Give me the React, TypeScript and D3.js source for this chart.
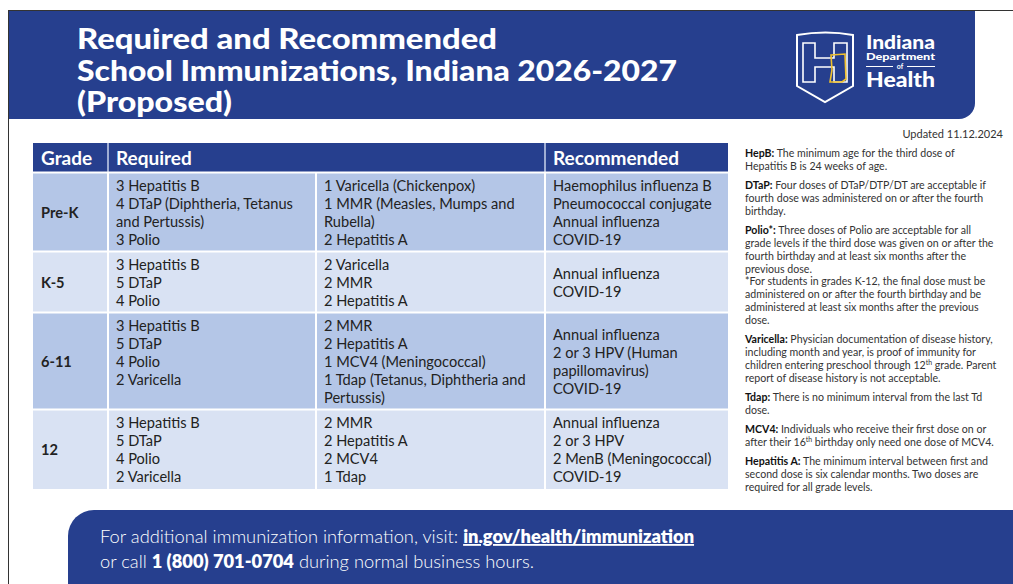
import React from "react";
import * as d3 from "d3";

// table content
const grades = ["Pre-K", "K-5", "6-11", "12"];
const requiredA = [
  ["3 Hepatitis B", "4 DTaP (Diphtheria, Tetanus", "and Pertussis)", "3 Polio"],
  ["3 Hepatitis B", "5 DTaP", "4 Polio"],
  ["3 Hepatitis B", "5 DTaP", "4 Polio", "2 Varicella"],
  ["3 Hepatitis B", "5 DTaP", "4 Polio", "2 Varicella"],
];
const requiredB = [
  ["1 Varicella (Chickenpox)", "1 MMR (Measles, Mumps and", "Rubella)", "2 Hepatitis A"],
  ["2 Varicella", "2 MMR", "2 Hepatitis A"],
  ["2 MMR", "2 Hepatitis A", "1 MCV4 (Meningococcal)", "1 Tdap (Tetanus, Diphtheria and", "Pertussis)"],
  ["2 MMR", "2 Hepatitis A", "2 MCV4", "1 Tdap"],
];
const recommended = [
  ["Haemophilus influenza B", "Pneumococcal conjugate", "Annual influenza", "COVID-19"],
  ["Annual influenza", "COVID-19"],
  ["Annual influenza", "2 or 3 HPV (Human", "papillomavirus)", "COVID-19"],
  ["Annual influenza", "2 or 3 HPV", "2 MenB (Meningococcal)", "COVID-19"],
];
const headers = ["Grade", "Required", "Recommended"];

const titleLines = [
  "Required and Recommended",
  "School Immunizations, Indiana 2026-2027",
  "(Proposed)",
];

const noteLabels = ["HepB:", "DTaP:", "Polio*:", "Varicella:", "Tdap:", "MCV4:", "Hepatitis A:"];
const noteLines = [
  [" The minimum age for the third dose of", "Hepatitis B is 24 weeks of age."],
  [" Four doses of DTaP/DTP/DT are acceptable if", "fourth dose was administered on or after the fourth", "birthday."],
  [
    " Three doses of Polio are acceptable for all",
    "grade levels if the third dose was given on or after the",
    "fourth birthday and at least six months after the",
    "previous dose.",
    "*For students in grades K-12, the final dose must be",
    "administered on or after the fourth birthday and be",
    "administered at least six months after the previous",
    "dose.",
  ],
  [
    " Physician documentation of disease history,",
    "including month and year, is proof of immunity for",
    "children entering preschool through 12{th} grade. Parent",
    "report of disease history is not acceptable.",
  ],
  [" There is no minimum interval from the last Td", "dose."],
  [" Individuals who receive their first dose on or", "after their 16{th} birthday only need one dose of MCV4."],
  [" The minimum interval between first and", "second dose is six calendar months. Two doses are", "required for all grade levels."],
];

const BLUE = "#263f8e";
const DARK_ROW = "#b4c6e7";
const LIGHT_ROW = "#d9e2f3";
const TXT = "#222";

function withSup(s: string) {
  const parts = s.split(/\{(.*?)\}/);
  return parts.map((p, i) =>
    i % 2 === 1 ? (
      <tspan key={i} dy={-4} fontSize="0.65em">
        {p}
      </tspan>
    ) : (
      <tspan key={i} dy={i > 0 ? 4 : 0}>
        {p}
      </tspan>
    )
  );
}

function App() {
  const W = 1013;
  const H = 584;
  const colEdges = [33, 108, 316, 545, 728];
  const headTop = 143;
  const headH = 29;
  const lineH = 18;

  const lineCounts = grades.map((_, i) =>
    d3.max([requiredA[i].length, requiredB[i].length, recommended[i].length]) as number
  );
  const rowH = lineCounts.map((n) => n * lineH + 7);
  const rowTop = [0, ...d3.cumsum(rowH)].map((v) => v + headTop + headH + 1);

  // notes layout
  const noteX = 745;
  const noteLH = 12.8;
  const noteGap = 6.6;
  let ny = 157;
  const noteY: number[][] = noteLines.map((lines) => {
    const ys = lines.map((_, j) => ny + j * noteLH);
    ny += lines.length * noteLH + noteGap;
    return ys;
  });

  const tableFont = "Lato, 'Noto Sans', sans-serif";

  return (
    <svg width={W} height={H} style={{ position: "absolute", left: 0, top: 0 }}>
      <rect width={W} height={H} fill="#fff" />
      {/* page edge */}
      <line x1={8} y1={10.5} x2={W} y2={10.5} stroke="#333" />
      <line x1={8.5} y1={10} x2={8.5} y2={H} stroke="#333" />

      {/* header band */}
      <path d="M9,11 H975 V103 A16,16 0 0 1 959,119 H9 Z" fill={BLUE} />
      <g fill="#fff" fontFamily="Lato, sans-serif" fontWeight={900} fontSize={28}>
        {titleLines.map((t, i) => (
          <text
            key={i}
            x={77}
            y={49 + i * 31.5}
            textLength={[420, 600, 155][i]}
            lengthAdjust="spacingAndGlyphs"
          >
            {t}
          </text>
        ))}
      </g>

      {/* logo */}
      <g fill="none" stroke="#fff" strokeWidth={2}>
        <path d="M797,35 Q826,30 853,35 V86 L825,102 L797,86 Z" />
        <path
          d="M803,43 H815 V58 H834 V43 H847 V82 H834 V67 H815 V82 H803 Z"
          strokeWidth={1.6}
        />
        <path d="M831,55 L845,54 L846,79 L842,82 L830,82 L832,70 Z" stroke="#f0c02c" strokeWidth={1.6} />
        <line x1={866} y1={66.5} x2={893} y2={66.5} strokeWidth={1} />
        <line x1={907} y1={66.5} x2={935} y2={66.5} strokeWidth={1} />
      </g>
      <g fill="#fff" fontFamily="Lato, sans-serif" fontWeight={900}>
        <text x={866} y={48.5} fontSize={18} textLength={69} lengthAdjust="spacingAndGlyphs">
          Indiana
        </text>
        <text x={866} y={60} fontSize={10} textLength={69} lengthAdjust="spacingAndGlyphs">
          Department
        </text>
        <text x={900} y={69} fontSize={7} textAnchor="middle" fontWeight={700}>
          of
        </text>
        <text x={866} y={87} fontSize={21} textLength={69} lengthAdjust="spacingAndGlyphs">
          Health
        </text>
      </g>

      <text x={1003} y={138} fontSize={11} textAnchor="end" fill="#333" fontFamily={tableFont}>
        Updated 11.12.2024
      </text>

      {/* table header */}
      <rect x={colEdges[0]} y={headTop} width={colEdges[4] - colEdges[0]} height={headH} fill={BLUE} />
      <g stroke="#c9d3ea" strokeWidth={1.5}>
        <line x1={colEdges[1]} y1={headTop} x2={colEdges[1]} y2={headTop + headH} />
        <line x1={colEdges[3]} y1={headTop} x2={colEdges[3]} y2={headTop + headH} />
      </g>
      <g fill="#fff" fontFamily={tableFont} fontWeight={700} fontSize={19}>
        {headers.map((h, i) => (
          <text key={h} x={[colEdges[0], colEdges[1], colEdges[3]][i] + 8} y={headTop + 22}>
            {h}
          </text>
        ))}
      </g>

      {/* rows */}
      {grades.map((g, r) => {
        const top = rowTop[r];
        const h = rowH[r];
        const mid = top + h / 2;
        const rec = recommended[r];
        return (
          <g key={g} fontFamily={tableFont} fontSize={14.6} fill={TXT}>
            <rect
              x={colEdges[0]}
              y={top}
              width={colEdges[4] - colEdges[0]}
              height={h}
              fill={r % 2 === 0 ? DARK_ROW : LIGHT_ROW}
            />
            <text x={colEdges[0] + 8} y={mid + 5} fontWeight={700}>
              {g}
            </text>
            {requiredA[r].map((t, j) => (
              <text key={"a" + j} x={colEdges[1] + 8} y={top + 18 + j * lineH}>
                {t}
              </text>
            ))}
            {requiredB[r].map((t, j) => (
              <text key={"b" + j} x={colEdges[2] + 8} y={top + 18 + j * lineH}>
                {t}
              </text>
            ))}
            {rec.map((t, j) => (
              <text
                key={"c" + j}
                x={colEdges[3] + 8}
                y={mid + 5 + (j - (rec.length - 1) / 2) * lineH}
              >
                {t}
              </text>
            ))}
          </g>
        );
      })}
      <g stroke="#fff" strokeWidth={2}>
        {rowTop.slice(0, -1).map((y, i) => (
          <line key={"h" + i} x1={colEdges[0]} x2={colEdges[4]} y1={y - 0.5} y2={y - 0.5} />
        ))}
        {colEdges.slice(1, 4).map((x, i) => (
          <line key={"v" + i} x1={x} x2={x} y1={rowTop[0]} y2={rowTop[rowTop.length - 1]} />
        ))}
      </g>

      {/* notes */}
      <g fontFamily={tableFont} fontSize={10.6} fill="#333">
        {noteLines.map((lines, i) =>
          lines.map((l, j) => (
            <text key={i + "-" + j} x={noteX} y={noteY[i][j]}>
              {j === 0 && (
                <tspan fontWeight={700} fill="#111">
                  {noteLabels[i]}
                </tspan>
              )}
              {withSup(l)}
            </text>
          ))
        )}
      </g>

      {/* footer */}
      <path d="M68,584 V536 A26,26 0 0 1 94,510 H1013 V584 Z" fill={BLUE} />
      <g fill="#fff" fontFamily="Lato, sans-serif" fontSize={18.3} fontWeight={300}>
        <text x={100} y={543}>
          For additional immunization information, visit:{" "}
          <tspan fontWeight={800} textDecoration="underline">
            in.gov/health/immunization
          </tspan>
        </text>
        <text x={100} y={568}>
          or call <tspan fontWeight={800}>1 (800) 701-0704</tspan> during normal business hours.
        </text>
      </g>
    </svg>
  );
}

export default App;
